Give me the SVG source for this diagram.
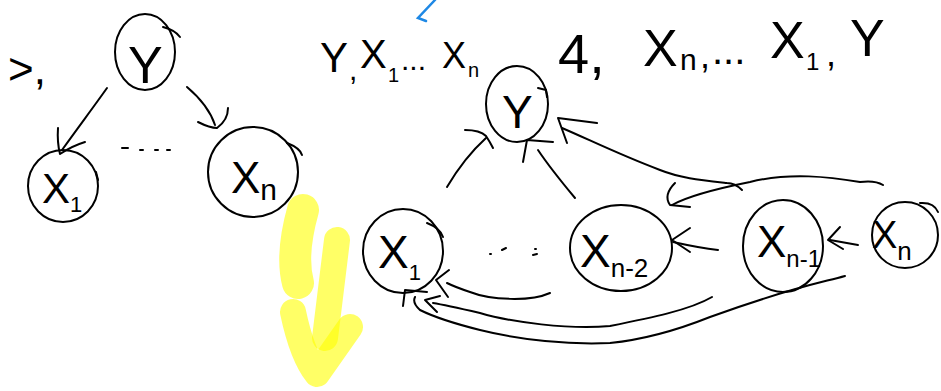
<svg xmlns="http://www.w3.org/2000/svg" width="941" height="391" viewBox="0 0 941 391">
<style>
.ln{fill:none;stroke:#000;stroke-width:2;stroke-linecap:round;stroke-linejoin:round}
.nd{fill:none;stroke:#000;stroke-width:2}
.t{font-family:"Liberation Sans","DejaVu Sans",sans-serif;fill:#000}
.hl{fill:none;stroke:#ffff00;stroke-opacity:0.6;stroke-linecap:round;stroke-linejoin:round}
</style>
<rect width="941" height="391" fill="#fff"/>

<!-- yellow highlighter arrow -->
<g id="highlight">
<path class="hl" d="M303,210 C296,235 292,260 298,283" stroke-width="32"/>
<path class="hl" d="M337,240 L325,338" stroke-width="26"/>
<path class="hl" d="M293,312 Q302,355 317,374 L350,327" stroke-width="26"/>
</g>

<!-- blue stroke -->
<path d="M435,0 L418,18 L426,21" fill="none" stroke="#1e88e5" stroke-width="2.5" stroke-linecap="round"/>

<!-- top texts -->
<g id="label-left">
<text class="t" x="8" y="84" font-size="44">&gt;,</text>
</g>
<g id="label-order1" class="t">
<text x="320" y="72" font-size="42">Y</text>
<text x="349" y="80" font-size="30">,</text>
<text x="360" y="68" font-size="40">X</text>
<text x="388" y="82" font-size="20">1</text>
<text x="401" y="70" font-size="30">...</text>
<text x="442" y="68" font-size="36">X</text>
<text x="468" y="77" font-size="20">n</text>
</g>
<g id="label-order2" class="t">
<text x="558" y="73" font-size="56">4,</text>
<text x="643" y="66" font-size="52">X</text>
<text x="680" y="70" font-size="30">n</text>
<text x="700" y="68" font-size="36">,</text>
<text x="712" y="64" font-size="40">...</text>
<text x="770" y="58" font-size="52">X</text>
<text x="806" y="70" font-size="24">1</text>
<text x="826" y="66" font-size="36">,</text>
<text x="850" y="56" font-size="52">Y</text>
</g>

<!-- left graph nodes -->
<g id="L-Y">
<ellipse class="nd" cx="145" cy="52" rx="30" ry="38"/>
<path class="ln" d="M163,27 Q175,30 180,37"/>
<text class="t" x="128" y="83" font-size="52">Y</text>
</g>
<g id="L-X1">
<ellipse class="nd" cx="63" cy="186" rx="35" ry="36"/>
<path class="ln" d="M96,172 L98,180"/>
<text class="t" x="42" y="203" font-size="42">X<tspan font-size="22" dy="9">1</tspan></text>
</g>
<g id="L-Xn">
<circle class="nd" cx="253" cy="172" r="45"/>
<path class="ln" d="M287,143 Q300,148 302,155"/>
<text class="t" x="231" y="193" font-size="44">X<tspan font-size="30" dy="7">n</tspan></text>
</g>
<g id="L-dots">
<path class="ln" d="M122,148 L128,148 M140,150 L143,150 M155,150 L158,150 M167,150 L170,150"/>
</g>

<!-- right graph nodes -->
<g id="R-Y">
<ellipse class="nd" cx="517" cy="104" rx="31" ry="38"/>
<path class="ln" d="M538,88 L546,90 L547,97"/>
<text class="t" x="502" y="128" font-size="46">Y</text>
</g>
<g id="R-X1">
<ellipse class="nd" cx="403" cy="251" rx="40" ry="42"/>
<path class="ln" d="M427,223 Q440,228 443,237"/>
<text class="t" x="378" y="268" font-size="46">X<tspan font-size="22" dy="12">1</tspan></text>
</g>
<g id="R-dots">
<path class="ln" d="M490,254 L491,254 M502,250 L506,248 M533,255 L537,254 M535,249 L536,249"/>
</g>
<g id="R-Xn-2">
<ellipse class="nd" cx="621" cy="248" rx="51" ry="43"/>
<text class="t" x="580" y="267" font-size="46">X<tspan font-size="26" dy="10">n-2</tspan></text>
</g>
<g id="R-Xn-1">
<ellipse class="nd" cx="783" cy="246" rx="40" ry="46"/>
<text class="t" x="757" y="257" font-size="44">X<tspan font-size="24" dy="10">n-1</tspan></text>
</g>
<g id="R-Xn">
<circle class="nd" cx="905" cy="235" r="33"/>
<path class="ln" d="M920,203 Q934,202 938,212"/>
<text class="t" x="872" y="248" font-size="38">X<tspan font-size="26" dy="12">n</tspan></text>
</g>

<!-- connectors -->
<g id="connectors">
<path class="ln" d="M107,88 C95,105 80,125 62,150"/>
<path class="ln" d="M58,128 Q57,142 60,154 Q72,146 85,142"/>
<path class="ln" d="M187,87 C200,98 210,110 215,125"/>
<path class="ln" d="M198,122 Q210,128 217,128 Q228,120 228,108"/>

<path class="ln" d="M447,187 C460,165 475,148 486,138"/>
<path class="ln" d="M465,130 Q480,130 486,136 Q490,142 493,148"/>
<path class="ln" d="M523,162 L527,140 L553,142"/>
<path class="ln" d="M575,198 C560,180 548,165 538,150"/>
<path class="ln" d="M742,190 Q735,183 727,183 C700,180 680,178 660,170 C620,155 590,140 562,128"/>
<path class="ln" d="M597,123 L558,118 L567,143"/>

<path class="ln" d="M883,185 Q875,180 860,182 C830,177 790,172 750,182 C720,188 690,195 672,205"/>
<path class="ln" d="M675,183 Q663,195 670,205 L690,207"/>
<path class="ln" d="M718,250 Q700,248 673,242"/>
<path class="ln" d="M690,228 L672,240 L690,252"/>
<path class="ln" d="M858,245 L830,240"/>
<path class="ln" d="M840,227 L828,240 L843,249"/>

<path class="ln" d="M550,293 C530,302 490,300 470,292 Q455,287 447,283"/>
<path class="ln" d="M449,270 L436,280 L448,297"/>
<path class="ln" d="M712,297 C690,310 650,318 610,326 C570,330 510,322 480,313 Q445,305 433,303"/>
<path class="ln" d="M440,296 L425,300 L437,312"/>
<path class="ln" d="M845,276 C820,283 793,287 710,317 C670,333 640,340 610,343 C570,345 520,340 480,330 Q440,320 420,310 Q412,303 415,297"/>
<path class="ln" d="M427,292 L405,290 L403,306"/>
</g>
</svg>
